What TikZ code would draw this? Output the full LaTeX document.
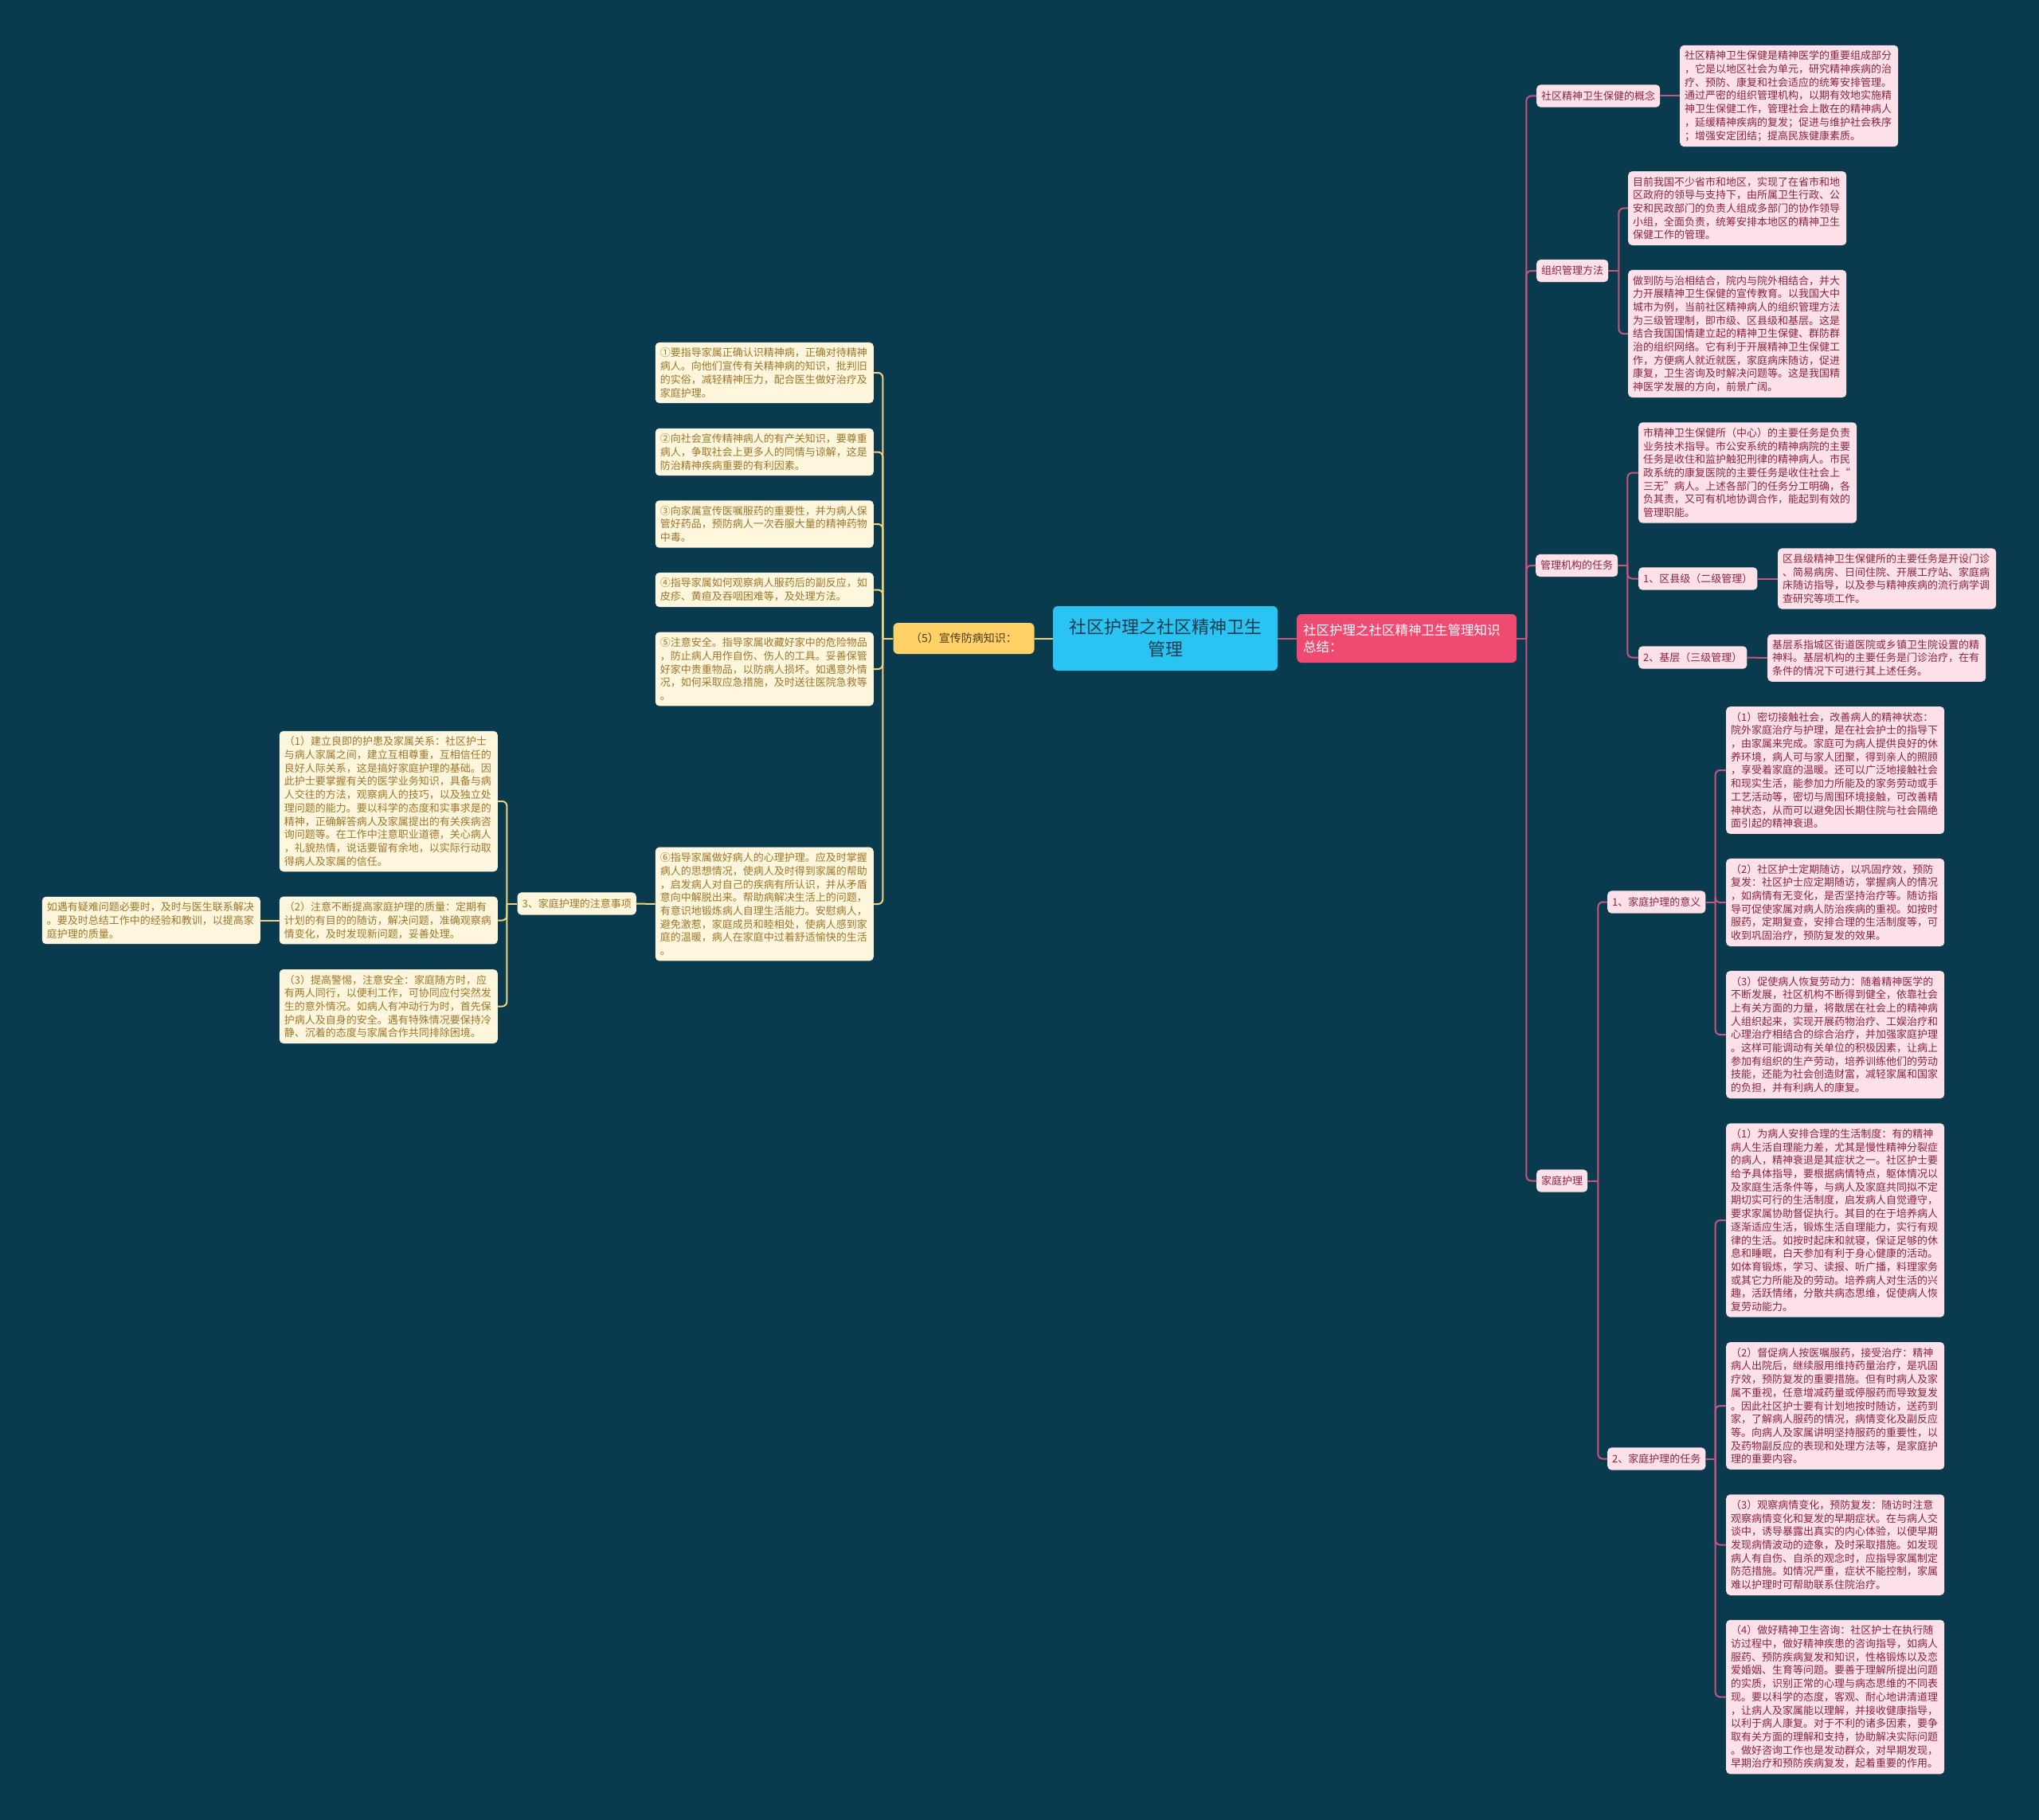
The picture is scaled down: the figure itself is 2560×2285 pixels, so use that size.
\documentclass[tikz,border=0pt]{standalone}
\usepackage{fontspec}
\setmainfont{Noto Sans CJK SC}
\newfontfamily\circfont[RawFeature=+fwid]{Noto Sans CJK SC}
\usepackage{tikz}

\definecolor{bgc}{HTML}{0A3A4D}
\definecolor{pinkline}{HTML}{C5577F}
\definecolor{pinkfill}{HTML}{FCE1E8}
\definecolor{pinktext}{HTML}{8A2342}
\definecolor{rootpink}{HTML}{EF4A71}
\definecolor{rootblue}{HTML}{2AC3F2}
\definecolor{bluetext}{HTML}{1B3D52}
\definecolor{goldfill}{HTML}{FFD166}
\definecolor{goldline}{HTML}{F0D27A}
\definecolor{creamfill}{HTML}{FFF6DE}
\definecolor{goldtext}{HTML}{9B7628}
\definecolor{promotext}{HTML}{4A3A1A}

\newcommand{\notesize}{\fontsize{13pt}{16.7pt}\selectfont}
\newcommand{\circno}[1]{{\circfont #1}}

\begin{document}
\begin{tikzpicture}[x=1pt, y=-1pt,
    mapbox/.style={rectangle, rounded corners=5pt, inner xsep=6pt, inner ysep=7pt, font=\notesize},
    pinktag/.style={mapbox, fill=pinkfill, text=pinktext, inner ysep=8pt, anchor=west},
    pinknote/.style={mapbox, fill=pinkfill, text=pinktext, text width=262pt, align=left, anchor=west},
    goldtag/.style={mapbox, fill=creamfill, text=goldtext, inner ysep=8pt},
    goldnote/.style={mapbox, fill=creamfill, text=goldtext, text width=262pt, align=left},
    rootbox/.style={rectangle, rounded corners=6pt, fill=rootblue, text=bluetext, font=\fontsize{22pt}{28pt}\selectfont, minimum width=282pt, minimum height=81pt, align=center},
    sumbox/.style={rectangle, rounded corners=6pt, fill=rootpink, text=white, font=\fontsize{16.5pt}{21pt}\selectfont, text width=260pt, inner xsep=8pt, minimum height=61pt, align=left, anchor=west},
    promobox/.style={rectangle, rounded corners=6pt, fill=goldfill, text=promotext, font=\fontsize{14pt}{17pt}\selectfont, minimum width=177pt, minimum height=39pt},
    pinkwire/.style={draw=pinkline, line width=2pt, rounded corners=6pt},
    goldwire/.style={draw=goldline, line width=2pt, rounded corners=6pt}]

    % Background and page size
    \fill[bgc] (0,0) rectangle (2560,2285);
    \useasboundingbox (0,0) rectangle (2560,2285);

    % Central topic and the two main branches
    \node[rootbox] (core) at (1463,801.5) {社区护理之社区精神卫生\\管理};
    \node[sumbox] (summary) at (1628,801.5) {社区护理之社区精神卫生管理知识\\总结：};
    \node[promobox] (promo) at (1210,801.5) {（5）宣传防病知识：};

    % Right side: concept
    \node[pinktag] (concept) at (1929,120.5) {社区精神卫生保健的概念};
    \node[pinknote] (conceptnote) at (2109,120.5) {社区精神卫生保健是精神医学的重要组成部分\\，它是以地区社会为单元，研究精神疾病的治\\疗、预防、康复和社会适应的统筹安排管理。\\通过严密的组织管理机构，以期有效地实施精\\神卫生保健工作，管理社会上散在的精神病人\\，延缓精神疾病的复发；促进与维护社会秩序\\；增强安定团结；提高民族健康素质。};

    % Right side: organisation
    \node[pinktag] (org) at (1929,340) {组织管理方法};
    \node[pinknote] (orgnotea) at (2044,261.5) {目前我国不少省市和地区，实现了在省市和地\\区政府的领导与支持下，由所属卫生行政、公\\安和民政部门的负责人组成多部门的协作领导\\小组，全面负责，统筹安排本地区的精神卫生\\保健工作的管理。};
    \node[pinknote] (orgnoteb) at (2044,419) {做到防与治相结合，院内与院外相结合，并大\\力开展精神卫生保健的宣传教育。以我国大中\\城市为例，当前社区精神病人的组织管理方法\\为三级管理制，即市级、区县级和基层。这是\\结合我国国情建立起的精神卫生保健、群防群\\治的组织网络。它有利于开展精神卫生保健工\\作，方便病人就近就医，家庭病床随访，促进\\康复，卫生咨询及时解决问题等。这是我国精\\神医学发展的方向，前景广阔。};

    % Right side: tasks of the institutions
    \node[pinktag] (mgmt) at (1928,710) {管理机构的任务};
    \node[pinknote] (citynote) at (2057,593.5) {市精神卫生保健所（中心）的主要任务是负责\\业务技术指导。市公安系统的精神病院的主要\\任务是收住和监护触犯刑律的精神病人。市民\\政系统的康复医院的主要任务是收住社会上“\\三无”病人。上述各部门的任务分工明确，各\\负其责，又可有机地协调合作，能起到有效的\\管理职能。};
    \node[pinktag] (county) at (2057,726.5) {1、区县级（二级管理）};
    \node[pinknote] (countynote) at (2232,726.5) {区县级精神卫生保健所的主要任务是开设门诊\\、简易病房、日间住院、开展工疗站、家庭病\\床随访指导，以及参与精神疾病的流行病学调\\查研究等项工作。};
    \node[pinktag] (base) at (2057,825.5) {2、基层（三级管理）};
    \node[pinknote] (basenote) at (2219,826) {基层系指城区街道医院或乡镇卫生院设置的精\\神料。基层机构的主要任务是门诊治疗，在有\\条件的情况下可进行其上述任务。};

    % Right side: home care
    \node[pinktag] (home) at (1929,1482.5) {家庭护理};
    \node[pinktag] (meaning) at (2018,1132.5) {1、家庭护理的意义};
    \node[pinknote] (meaninga) at (2167,967) {（1）密切接触社会，改善病人的精神状态：\\院外家庭治疗与护理，是在社会护士的指导下\\，由家属来完成。家庭可为病人提供良好的休\\养环境，病人可与家人团聚，得到亲人的照顾\\，享受着家庭的温暖。还可以广泛地接触社会\\和现实生活，能参加力所能及的家务劳动或手\\工艺活动等，密切与周围环境接触，可改善精\\神状态，从而可以避免因长期住院与社会隔绝\\面引起的精神衰退。};
    \node[pinknote] (meaningb) at (2167,1133) {（2）社区护士定期随访，以巩固疗效，预防\\复发：社区护士应定期随访，掌握病人的情况\\，如病情有无变化，是否坚持治疗等。随访指\\导可促使家属对病人防治疾病的重视。如按时\\服药，定期复查，安排合理的生活制度等，可\\收到巩固治疗，预防复发的效果。};
    \node[pinknote] (meaningc) at (2167,1299) {（3）促使病人恢复劳动力：随着精神医学的\\不断发展，社区机构不断得到健全，依靠社会\\上有关方面的力量，将散居在社会上的精神病\\人组织起来，实现开展药物治疗、工娱治疗和\\心理治疗相结合的综合治疗，并加强家庭护理\\。这样可能调动有关单位的积极因素，让病上\\参加有组织的生产劳动，培养训练他们的劳动\\技能，还能为社会创造财富，减轻家属和国家\\的负担，并有利病人的康复。};
    \node[pinktag] (duty) at (2018,1831.5) {2、家庭护理的任务};
    \node[pinknote] (dutya) at (2167,1532) {（1）为病人安排合理的生活制度：有的精神\\病人生活自理能力差，尤其是慢性精神分裂症\\的病人，精神衰退是其症状之一。社区护士要\\给予具体指导，要根据病情特点，躯体情况以\\及家庭生活条件等，与病人及家庭共同拟不定\\期切实可行的生活制度，启发病人自觉遵守，\\要求家属协助督促执行。其目的在于培养病人\\逐渐适应生活，锻炼生活自理能力，实行有规\\律的生活。如按时起床和就寝，保证足够的休\\息和睡眠，白天参加有利于身心健康的活动。\\如体育锻炼，学习、读报、听广播，料理家务\\或其它力所能及的劳动。培养病人对生活的兴\\趣，活跃情绪，分散共病态思维，促使病人恢\\复劳动能力。};
    \node[pinknote] (dutyb) at (2167,1765) {（2）督促病人按医嘱服药，接受治疗：精神\\病人出院后，继续服用维持药量治疗，是巩固\\疗效，预防复发的重要措施。但有时病人及家\\属不重视，任意增减药量或停服药而导致复发\\。因此社区护士要有计划地按时随访，送药到\\家，了解病人服药的情况，病情变化及副反应\\等。向病人及家属讲明坚持服药的重要性，以\\及药物副反应的表现和处理方法等，是家庭护\\理的重要内容。};
    \node[pinknote] (dutyc) at (2167,1939.5) {（3）观察病情变化，预防复发：随访时注意\\观察病情变化和复发的早期症状。在与病人交\\谈中，诱导暴露出真实的内心体验，以便早期\\发现病情波动的迹象，及时采取措施。如发现\\病人有自伤、自杀的观念时，应指导家属制定\\防范措施。如情况严重，症状不能控制，家属\\难以护理时可帮助联系住院治疗。};
    \node[pinknote] (dutyd) at (2167,2130.5) {（4）做好精神卫生咨询：社区护士在执行随\\访过程中，做好精神疾患的咨询指导，如病人\\服药、预防疾病复发和知识，性格锻炼以及恋\\爱婚姻、生育等问题。要善于理解所提出问题\\的实质，识别正常的心理与病态思维的不同表\\现。要以科学的态度，客观、耐心地讲清道理\\，让病人及家属能以理解，并接收健康指导，\\以利于病人康复。对于不利的诸多因素，要争\\取有关方面的理解和支持，协助解决实际问题\\。做好咨询工作也是发动群众，对早期发现，\\早期治疗和预防疾病复发，起着重要的作用。};

    % Left side: propaganda items
    \node[goldnote, anchor=east] (itema) at (1097,468) {\circno{①}要指导家属正确认识精神病，正确对待精神\\病人。向他们宣传有关精神病的知识，批判旧\\的实俗，减轻精神压力，配合医生做好治疗及\\家庭护理。};
    \node[goldnote, anchor=east] (itemb) at (1097,567.5) {\circno{②}向社会宣传精神病人的有产关知识，要尊重\\病人，争取社会上更多人的同情与谅解，这是\\防治精神疾病重要的有利因素。};
    \node[goldnote, anchor=east] (itemc) at (1097,658) {\circno{③}向家属宣传医嘱服药的重要性，并为病人保\\管好药品，预防病人一次吞服大量的精神药物\\中毒。};
    \node[goldnote, anchor=east] (itemd) at (1097,740.5) {\circno{④}指导家属如何观察病人服药后的副反应，如\\皮疹、黄疸及吞咽困难等，及处理方法。};
    \node[goldnote, anchor=east] (iteme) at (1097,840) {\circno{⑤}注意安全。指导家属收藏好家中的危险物品\\，防止病人用作自伤、伤人的工具。妥善保管\\好家中贵重物品，以防病人损坏。如遇意外情\\况，如何采取应急措施，及时送往医院急救等\\。};
    \node[goldnote, anchor=east] (itemf) at (1097,1135) {\circno{⑥}指导家属做好病人的心理护理。应及时掌握\\病人的思想情况，使病人及时得到家属的帮助\\，启发病人对自己的疾病有所认识，并从矛盾\\意向中解脱出来。帮助病解决生活上的问题，\\有意识地锻炼病人自理生活能力。安慰病人，\\避免激惹，家庭成员和睦相处，使病人感到家\\庭的温暖，病人在家庭中过着舒适愉快的生活\\。};

    % Left side: points of attention
    \node[goldtag, anchor=east] (notice) at (799,1134.5) {3、家庭护理的注意事项};
    \node[goldnote, anchor=east] (noticea) at (625,1006) {（1）建立良即的护患及家属关系：社区护士\\与病人家属之间，建立互相尊重，互相信任的\\良好人际关系，这是搞好家庭护理的基础。因\\此护士要掌握有关的医学业务知识，具备与病\\人交往的方法，观察病人的技巧，以及独立处\\理问题的能力。要以科学的态度和实事求是的\\精神，正确解答病人及家属提出的有关疾病咨\\询问题等。在工作中注意职业道德，关心病人\\，礼貌热情，说话要留有余地，以实际行动取\\得病人及家属的信任。};
    \node[goldnote, anchor=east] (noticeb) at (625,1155.5) {（2）注意不断提高家庭护理的质量：定期有\\计划的有目的的随访，解决问题，准确观察病\\情变化，及时发现新问题，妥善处理。};
    \node[goldnote, anchor=east] (noticec) at (625,1263.5) {（3）提高警惕，注意安全：家庭随方时，应\\有两人同行，以便利工作，可协同应付突然发\\生的意外情况。如病人有冲动行为时，首先保\\护病人及自身的安全。遇有特殊情况要保持冷\\静、沉着的态度与家属合作共同排除困境。};
    \node[goldnote, anchor=east] (noticeleft) at (327,1155.5) {如遇有疑难问题必要时，及时与医生联系解决\\。要及时总结工作中的经验和教训，以提高家\\庭护理的质量。};

    % Connect the central topic
    \draw[goldwire] (core.west) -- (promo.east);
    \draw[pinkwire] (core.east) -- (summary.west);

    % Right trunk
    \coordinate (busmain) at ([xshift=12pt]summary.east);
    \draw[pinkwire] (summary.east) -- (busmain);
    \draw[pinkwire] (busmain) |- (concept.west);
    \draw[pinkwire] (busmain) |- (org.west);
    \draw[pinkwire] (busmain) |- (mgmt.west);
    \draw[pinkwire] (busmain) |- (home.west);
    \draw[pinkwire] (concept.east) -- (conceptnote.west);

    \coordinate (busorg) at ([xshift=13pt]org.east);
    \draw[pinkwire] (org.east) -- (busorg);
    \draw[pinkwire] (busorg) |- (orgnotea.west);
    \draw[pinkwire] (busorg) |- (orgnoteb.west);

    \coordinate (busmgmt) at ([xshift=12pt]mgmt.east);
    \draw[pinkwire] (mgmt.east) -- (busmgmt);
    \draw[pinkwire] (busmgmt) |- (citynote.west);
    \draw[pinkwire] (busmgmt) |- (county.west);
    \draw[pinkwire] (busmgmt) |- (base.west);
    \draw[pinkwire] (county.east) -- (countynote.west);
    \draw[pinkwire] (base.east) -- (basenote.west);

    \coordinate (bushome) at ([xshift=13pt]home.east);
    \draw[pinkwire] (home.east) -- (bushome);
    \draw[pinkwire] (bushome) |- (meaning.west);
    \draw[pinkwire] (bushome) |- (duty.west);

    \coordinate (busmeaning) at ([xshift=12pt]meaning.east);
    \draw[pinkwire] (meaning.east) -- (busmeaning);
    \draw[pinkwire] (busmeaning) |- (meaninga.west);
    \draw[pinkwire] (busmeaning) |- (meaningb.west);
    \draw[pinkwire] (busmeaning) |- (meaningc.west);

    \coordinate (busduty) at ([xshift=12pt]duty.east);
    \draw[pinkwire] (duty.east) -- (busduty);
    \draw[pinkwire] (busduty) |- (dutya.west);
    \draw[pinkwire] (busduty) |- (dutyb.west);
    \draw[pinkwire] (busduty) |- (dutyc.west);
    \draw[pinkwire] (busduty) |- (dutyd.west);

    % Left trunk
    \coordinate (buspromo) at ([xshift=-13pt]promo.west);
    \draw[goldwire] (promo.west) -- (buspromo);
    \draw[goldwire] (buspromo) |- (itema.east);
    \draw[goldwire] (buspromo) |- (itemb.east);
    \draw[goldwire] (buspromo) |- (itemc.east);
    \draw[goldwire] (buspromo) |- (itemd.east);
    \draw[goldwire] (buspromo) |- (iteme.east);
    \draw[goldwire] (buspromo) |- (itemf.east);
    \draw[goldwire] (itemf.west) -- (notice.east);

    \coordinate (busnotice) at ([xshift=-13pt]notice.west);
    \draw[goldwire] (notice.west) -- (busnotice);
    \draw[goldwire] (busnotice) |- (noticea.east);
    \draw[goldwire] (busnotice) |- (noticeb.east);
    \draw[goldwire] (busnotice) |- (noticec.east);
    \draw[goldwire] (noticeb.west) -- (noticeleft.east);
\end{tikzpicture}
\end{document}
